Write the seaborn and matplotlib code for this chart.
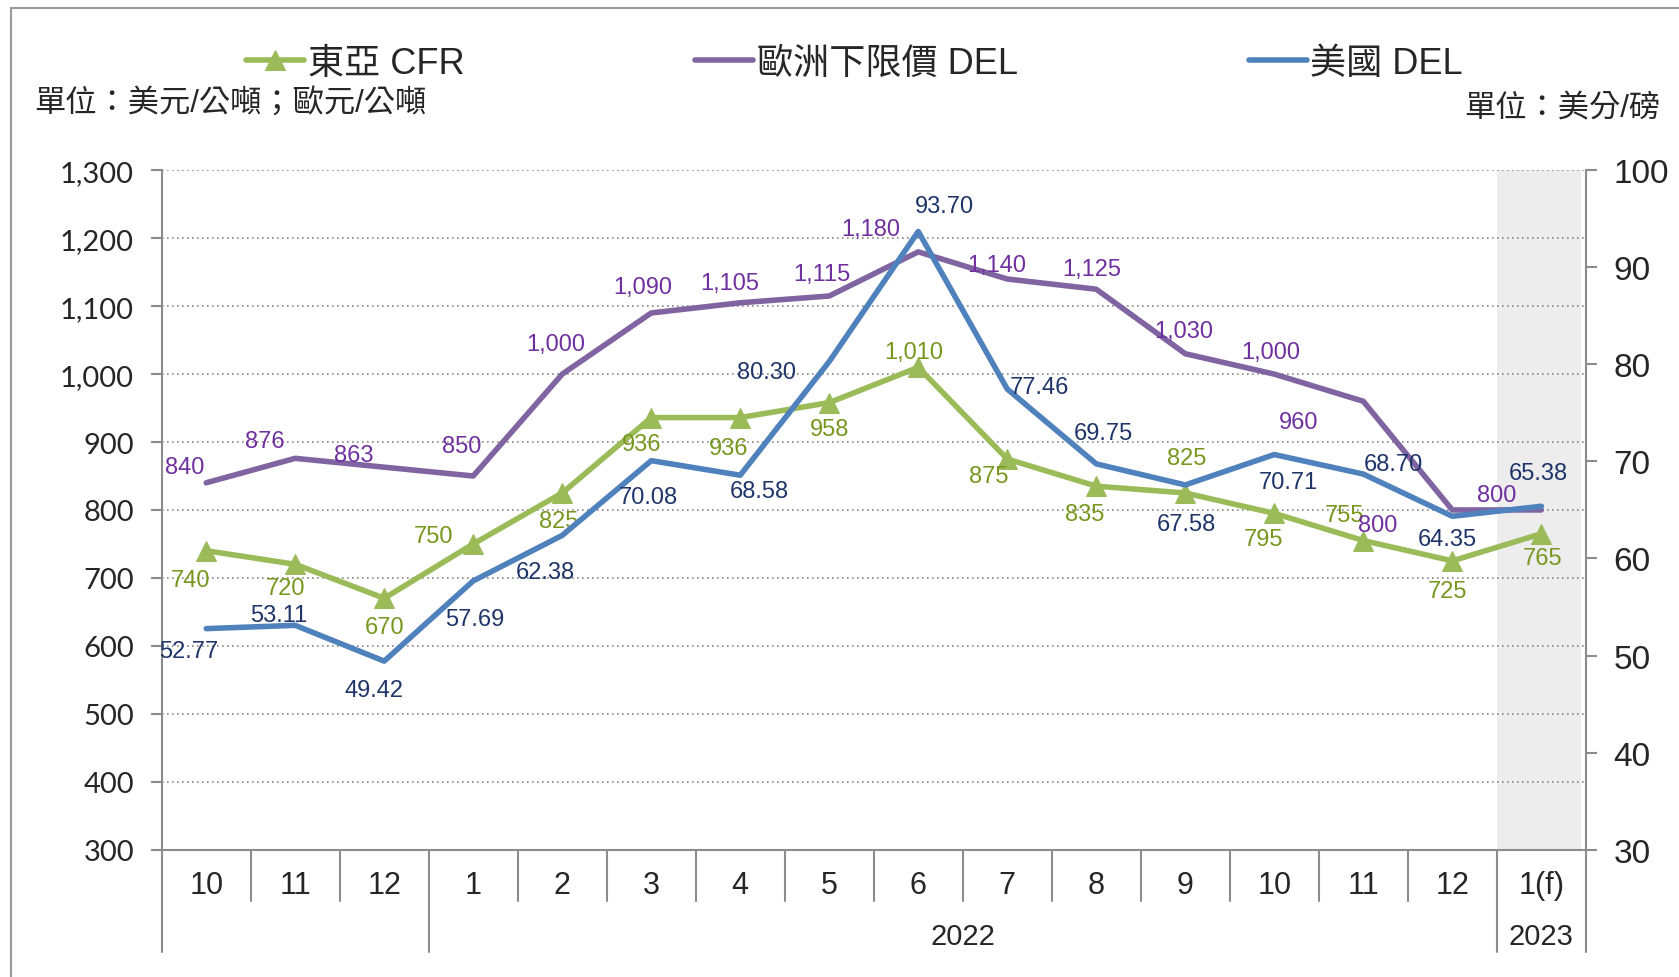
import matplotlib
matplotlib.use("Agg")
import matplotlib.pyplot as plt
import matplotlib.transforms as mtransforms
from matplotlib.patches import Rectangle
import seaborn as sns

months = ["10", "11", "12", "1", "2", "3", "4", "5", "6", "7", "8", "9", "10", "11", "12", "1(f)"]
years = ["2022", "2023"]
asia_cfr = [740, 720, 670, 750, 825, 936, 936, 958, 1010, 875, 835, 825, 795, 755, 725, 765]
eu_del = [840, 876, 863, 850, 1000, 1090, 1105, 1115, 1180, 1140, 1125, 1030, 1000, 960, 800, 800]
us_del = [52.77, 53.11, 49.42, 57.69, 62.38, 70.08, 68.58, 80.30, 93.70, 77.46, 69.75, 67.58,
          70.71, 68.70, 64.35, 65.38]
left_ticks = [300, 400, 500, 600, 700, 800, 900, 1000, 1100, 1200, 1300]
right_ticks = [30, 40, 50, 60, 70, 80, 90, 100]

# label offsets in points (dx, dy)
asia_off = [(-11.6, -20.8), (-6.9, -17), (0, -20.8), (-28.5, 5.4), (-2.3, -20), (-6.9, -19.3),
            (-8.5, -21.6), (0, -19.3), (-3.1, 10.8), (-13.1, -12.3), (-8.5, -20), (0.8, 25.4),
            (-7.7, -18.5), (-13.5, 18.5), (-3.1, -21.6), (0.8, -17.7)]
eu_off = [(-15.4, 11.6), (-21.6, 12.3), (-21.6, 8.5), (-8.5, 21.6), (-4.6, 21.6), (-6.2, 18.5),
          (-7.7, 13.9), (-5.4, 16.2), (-33.9, 16.2), (-7.7, 10), (-3.1, 14.6), (-0.8, 16.2),
          (-2.3, 16.2), (-46.3, -14.6), (-53.5, -10.5), (-32.4, 10.8)]
us_off = [(-12.3, -16.2), (-11.6, 7.7), (-7.7, -20.8), (0.8, -27.8), (-12.3, -26.2), (-2.3, -26.2),
          (13.9, -11.6), (-45.5, -7.7), (18.5, 18.5), (23.1, 1.5), (5.4, 22.4), (0.8, -27.8),
          (10, -20), (21.6, 6.9), (-3.9, -16.2), (-2.3, 23.9)]

sns.set_theme(style="white")
plt.rcParams['font.family'] = ['Liberation Sans', 'Noto Sans CJK TC', 'DejaVu Sans']

green, purple, blue = "#9BBB59", "#8064A2", "#4F81BD"
green_t, purple_t, blue_t = "#77971F", "#7030A0", "#1F3468"
grey = "#8c8c8c"

fig = plt.figure(figsize=(16.79, 9.78), dpi=100)
ax = fig.add_axes([0.0963, 0.1303, 0.8482, 0.6945])
ax2 = ax.twinx()
x = list(range(len(months)))

ax.axvspan(14.5, 15.45, color="#ededed", zorder=0, lw=0)

sns.lineplot(x=x, y=eu_del, ax=ax, color=purple, linewidth=4, label="歐洲下限價 DEL", legend=False)
sns.lineplot(x=x, y=asia_cfr, ax=ax, color=green, linewidth=4, marker="^", markersize=15,
             markeredgecolor=green, label="東亞 CFR", legend=False)
sns.lineplot(x=x, y=us_del, ax=ax2, color=blue, linewidth=4, label="美國 DEL", legend=False)

for i in x:
    ax.annotate(f"{asia_cfr[i]:,}", (i, asia_cfr[i]), xytext=asia_off[i], textcoords="offset points",
                ha="center", va="center", fontsize=17, color=green_t)
    ax.annotate(f"{eu_del[i]:,}", (i, eu_del[i]), xytext=eu_off[i], textcoords="offset points",
                ha="center", va="center", fontsize=17, color=purple_t)
    ax2.annotate(f"{us_del[i]:.2f}", (i, us_del[i]), xytext=us_off[i], textcoords="offset points",
                 ha="center", va="center", fontsize=17, color=blue_t)

ax.set_xlim(-0.5, 15.5)
ax.set_ylim(300, 1300)
ax2.set_ylim(30, 100)
ax.set_yticks(left_ticks)
ax.set_yticklabels([f"{v:,}" for v in left_ticks], fontsize=21, family=['Lato', 'DejaVu Sans'])
ax2.set_yticks(right_ticks)
ax2.set_yticklabels([str(v) for v in right_ticks], fontsize=24)
ax.set_xticks(x)
ax.set_xticklabels(months, fontsize=22)
ax.tick_params(axis="x", length=0, pad=15)
ax.tick_params(axis="y", left=True, length=8, width=1.5, color=grey, pad=12)
ax2.tick_params(axis="y", right=True, length=8, width=1.5, color=grey, pad=12)
ax.grid(axis="y", linestyle=(0, (1, 2)), color="#888888", linewidth=1.2)
ax.grid(axis="x", visible=False)

for a in (ax, ax2):
    a.spines["top"].set_visible(False)
    for s in ("left", "right", "bottom"):
        a.spines[s].set_color(grey)
        a.spines[s].set_linewidth(1.5)
ax2.spines["left"].set_visible(False)
ax2.spines["bottom"].set_visible(False)
ax.spines["right"].set_visible(False)

# two-level category axis
trans = mtransforms.blended_transform_factory(ax.transData, ax.transAxes)
for b in [i + 0.5 for i in range(-1, 16)]:
    depth = -0.151 if b in (-0.5, 2.5, 14.5, 15.5) else -0.0757
    ax.plot([b, b], [0, depth], transform=trans, color=grey, lw=1.5, clip_on=False)
ax.text(8.5, -0.127, years[0], transform=trans, ha="center", va="center", fontsize=21)
ax.text(15.0, -0.127, years[1], transform=trans, ha="center", va="center", fontsize=21)

# legend
h1, l1 = ax.get_legend_handles_labels()
h2, l2 = ax2.get_legend_handles_labels()
order = [1, 0]
handles = [h1[i] for i in order] + h2
labels = [l1[i] for i in order] + l2
fig.legend(handles, labels, loc="center", bbox_to_anchor=(0.509, 0.934), ncol=3, frameon=False,
           fontsize=26, handlelength=1.6, handletextpad=0.1, columnspacing=6.4)

fig.text(0.0204, 0.893, "單位：美元/公噸；歐元/公噸", ha="left", va="center", fontsize=22.5)
fig.text(0.989, 0.888, "單位：美分/磅", ha="right", va="center", fontsize=22.5)

fig.patches.append(Rectangle((0.0064, -0.01), 1.0, 1.001, transform=fig.transFigure,
                             fill=False, edgecolor="#999999", lw=1.5))

fig.savefig("out.png", dpi=100)
